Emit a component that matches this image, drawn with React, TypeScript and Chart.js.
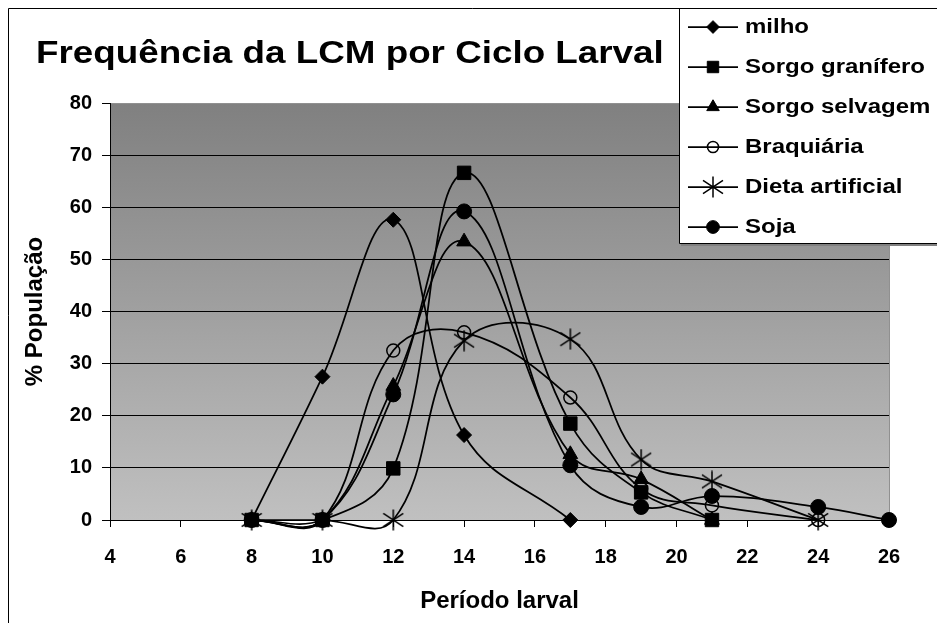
import React, { useEffect, useRef } from "react";
import { Chart, registerables } from "chart.js";

Chart.register(...registerables);

// ---- data ----
const chartTitle = "Frequência da LCM por Ciclo Larval";
const xAxisTitle = "Período larval";
const yAxisTitle = "% População";
const periods = [8, 10, 12, 14, 17, 19, 21, 24, 26];
const seriesNames = ["milho", "Sorgo granífero", "Sorgo selvagem", "Braquiária", "Dieta artificial", "Soja"];
const milho = [0, 27.5, 57.6, 16.3, 0, null, null, null, null];
const sorgoGranifero = [0, 0, 9.9, 66.6, 18.5, 5.3, 0, null, null];
const sorgoSelvagem = [0, 0, 25.7, 53.4, 12.6, 7.8, 0, null, null];
const braquiaria = [0, 0, 32.5, 36, 23.5, 6, 2.8, 0, null];
const dietaArtificial = [0, 0, 0, 34.4, 34.7, 11.6, 7.4, 0, null];
const soja = [0, 0, 24.1, 59.2, 10.5, 2.5, 4.6, 2.5, 0];
const xMin = 4;
const xMax = 26;
const xStep = 2;
const yMin = 0;
const yMax = 80;
const yStep = 10;

const FONT = "'Liberation Sans', Arial, sans-serif";

function makeAsterisk(size: number) {
  const c = document.createElement("canvas");
  c.width = size;
  c.height = size;
  const g = c.getContext("2d")!;
  g.strokeStyle = "#000";
  g.lineWidth = 1.5;
  const h = size / 2;
  g.beginPath();
  g.moveTo(h, 0.5);
  g.lineTo(h, size - 0.5);
  g.moveTo(1, size * 0.2);
  g.lineTo(size - 1, size * 0.8);
  g.moveTo(1, size * 0.8);
  g.lineTo(size - 1, size * 0.2);
  g.stroke();
  return c;
}

function drawMarker(ctx: CanvasRenderingContext2D, style: any, x: number, y: number, r: number, fill: string, bw: number) {
  ctx.save();
  ctx.fillStyle = fill;
  ctx.strokeStyle = "#000";
  ctx.lineWidth = bw;
  if (typeof style !== "string") {
    ctx.drawImage(style, x - style.width / 2, y - style.height / 2);
    ctx.restore();
    return;
  }
  ctx.beginPath();
  if (style === "rectRot") {
    ctx.moveTo(x, y - r);
    ctx.lineTo(x + r, y);
    ctx.lineTo(x, y + r);
    ctx.lineTo(x - r, y);
    ctx.closePath();
  } else if (style === "rect") {
    const s = Math.SQRT1_2 * r;
    ctx.rect(x - s, y - s, 2 * s, 2 * s);
  } else if (style === "triangle") {
    let rad = 0;
    ctx.moveTo(x + Math.sin(rad) * r, y - Math.cos(rad) * r);
    rad += (2 * Math.PI) / 3;
    ctx.lineTo(x + Math.sin(rad) * r, y - Math.cos(rad) * r);
    rad += (2 * Math.PI) / 3;
    ctx.lineTo(x + Math.sin(rad) * r, y - Math.cos(rad) * r);
    ctx.closePath();
  } else {
    ctx.arc(x, y, r, 0, Math.PI * 2);
  }
  ctx.fill();
  ctx.stroke();
  ctx.restore();
}

export default function App() {
  const ref = useRef<HTMLCanvasElement>(null);

  useEffect(() => {
    const canvas = ref.current!;
    const star = makeAsterisk(22);
    const styles: any[] = [
      { pointStyle: "rectRot", radius: 7.5, fill: "#000", bw: 1 },
      { pointStyle: "rect", radius: 9.5, fill: "#000", bw: 1 },
      { pointStyle: "triangle", radius: 8.5, fill: "#000", bw: 1 },
      { pointStyle: "circle", radius: 6.5, fill: "rgba(0,0,0,0)", bw: 1.5 },
      { pointStyle: star, radius: 11, fill: "#000", bw: 1 },
      { pointStyle: "circle", radius: 7.5, fill: "#000", bw: 1 },
    ];
    const allSeries = [milho, sorgoGranifero, sorgoSelvagem, braquiaria, dietaArtificial, soja];

    const datasets = allSeries.map((vals, i) => ({
      label: seriesNames[i],
      data: periods
        .map((x, j) => (vals[j] === null ? null : { x, y: vals[j] as number }))
        .filter((p) => p !== null),
      borderColor: "#000",
      borderWidth: 1.75,
      tension: 0.4,
      capBezierPoints: false,
      fill: false,
      clip: false as any,
      pointStyle: styles[i].pointStyle,
      pointRadius: styles[i].radius,
      pointBackgroundColor: styles[i].fill,
      pointBorderColor: "#000",
      pointBorderWidth: styles[i].bw,
    }));

    const decor = {
      id: "decor",
      beforeDraw(chart: any) {
        const { ctx, chartArea } = chart;
        const { left, right, top, bottom } = chartArea;
        ctx.save();
        ctx.fillStyle = "#fff";
        ctx.fillRect(0, 0, chart.width, chart.height);
        const grad = ctx.createLinearGradient(0, top, 0, bottom);
        grad.addColorStop(0, "#808080");
        grad.addColorStop(1, "#c0c0c0");
        ctx.fillStyle = grad;
        ctx.fillRect(left, top, right - left, bottom - top);
        ctx.restore();
      },
      beforeDatasetsDraw(chart: any) {
        const { ctx, chartArea } = chart;
        const { right, top, bottom } = chartArea;
        ctx.save();
        ctx.strokeStyle = "#909090";
        ctx.lineWidth = 1;
        ctx.beginPath();
        ctx.moveTo(Math.round(right) + 0.5, top);
        ctx.lineTo(Math.round(right) + 0.5, bottom);
        ctx.stroke();
        ctx.restore();
      },
      afterDraw(chart: any) {
        const { ctx } = chart;
        ctx.save();
        // outer border (top and left)
        ctx.strokeStyle = "#000";
        ctx.lineWidth = 1;
        ctx.beginPath();
        ctx.moveTo(0.5, chart.height);
        ctx.lineTo(0.5, 0.5);
        ctx.lineTo(chart.width, 0.5);
        ctx.stroke();

        // title
        ctx.fillStyle = "#000";
        ctx.font = `bold 32px ${FONT}`;
        ctx.textBaseline = "alphabetic";
        ctx.textAlign = "left";
        ctx.save();
        ctx.translate(28, 55);
        ctx.scale(1.15, 1);
        ctx.fillText(chartTitle, 0, 0);
        ctx.restore();

        // legend box
        const lx = 671;
        const ly = 0;
        const lb = 235;
        ctx.fillStyle = "#808080";
        ctx.fillRect(lx + 2, lb + 1, chart.width, 2);
        ctx.fillStyle = "#fff";
        ctx.fillRect(lx, ly, chart.width, lb - ly);
        ctx.strokeStyle = "#000";
        ctx.beginPath();
        ctx.moveTo(lx + 0.5, ly);
        ctx.lineTo(lx + 0.5, lb + 0.5);
        ctx.lineTo(chart.width, lb + 0.5);
        ctx.moveTo(lx, 0.5);
        ctx.lineTo(chart.width, 0.5);
        ctx.stroke();

        seriesNames.forEach((name, i) => {
          const y = 19 + 40 * i;
          ctx.strokeStyle = "#000";
          ctx.lineWidth = 1.75;
          ctx.beginPath();
          ctx.moveTo(680, y);
          ctx.lineTo(730, y);
          ctx.stroke();
          const st = styles[i];
          drawMarker(ctx, st.pointStyle, 705, y, st.radius * 0.85, st.fill, st.bw);
          ctx.fillStyle = "#000";
          ctx.font = `bold 20px ${FONT}`;
          ctx.textBaseline = "middle";
          ctx.save();
          ctx.translate(737, y);
          ctx.scale(1.2, 1);
          ctx.fillText(name, 0, 0);
          ctx.restore();
        });
        ctx.restore();
      },
    };

    const chart = new Chart(canvas, {
      type: "line",
      data: { datasets: datasets as any },
      options: {
        responsive: false,
        animation: false,
        devicePixelRatio: 1,
        layout: { padding: { top: 95, right: 48, left: 0, bottom: 0 } },
        elements: { line: { capBezierPoints: false } },
        plugins: {
          legend: { display: false },
          tooltip: { enabled: false },
          title: { display: false },
        },
        scales: {
          x: {
            type: "linear",
            min: xMin,
            max: xMax,
            ticks: {
              stepSize: xStep,
              color: "#000",
              font: { family: FONT, size: 20, weight: "bold" },
              padding: 18,
            },
            grid: {
              drawOnChartArea: false,
              drawTicks: true,
              tickLength: 7,
              color: "#000",
              tickColor: "#000",
            },
            border: { display: true, color: "#000", width: 1 },
            title: {
              display: true,
              text: xAxisTitle,
              color: "#000",
              font: { family: FONT, size: 24, weight: "bold" },
              padding: { top: 0, bottom: 7 },
            },
            afterFit(s: any) {
              s.height = 103;
            },
          },
          y: {
            type: "linear",
            min: yMin,
            max: yMax,
            ticks: {
              stepSize: yStep,
              color: "#000",
              font: { family: FONT, size: 20, weight: "bold" },
              padding: 10,
            },
            grid: {
              drawTicks: true,
              tickLength: 8,
              color: (c: any) => (c.tick && c.tick.value === yMax ? "#909090" : "#000"),
              tickColor: "#000",
            },
            border: { display: true, color: "#000", width: 1 },
            title: {
              display: true,
              text: yAxisTitle,
              color: "#000",
              font: { family: FONT, size: 24, weight: "bold" },
              padding: { top: 13, bottom: 0 },
            },
            afterFit(s: any) {
              s.width = 102;
            },
          },
        },
      },
      plugins: [decor],
    });

    return () => chart.destroy();
  }, []);

  return (
    <div style={{ position: "fixed", left: 8, top: 8, width: 929, height: 615 }}>
      <canvas ref={ref} width={929} height={615} style={{ display: "block", width: 929, height: 615 }} />
    </div>
  );
}
